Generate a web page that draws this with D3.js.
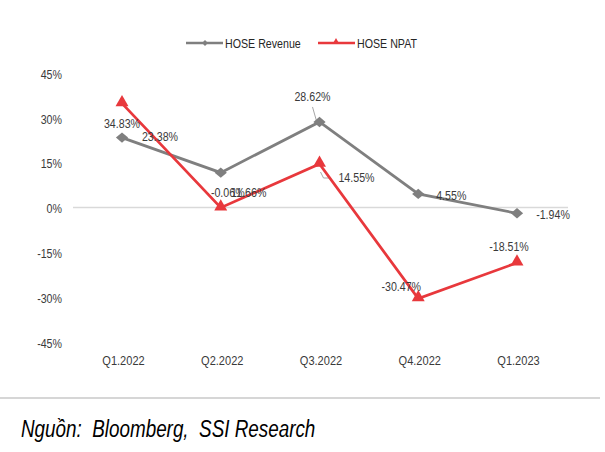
<!DOCTYPE html>
<html>
<head>
<meta charset="utf-8">
<script src="https://cdn.jsdelivr.net/npm/d3@7"></script>
<style>
  body { margin: 0; background: #fff; }
  text { font-family: "Liberation Sans", Arial, sans-serif; }
</style>
</head>
<body>
<div id="wrapper"></div>
<script>
const quarters = ["Q1.2022", "Q2.2022", "Q3.2022", "Q4.2022", "Q1.2023"];
const revenue = [23.38, 11.66, 28.62, 4.55, -1.94];
const npat = [34.83, -0.06, 14.55, -30.47, -18.51];
const yTicks = [45, 30, 15, 0, -15, -30, -45];
const seriesNames = ["HOSE Revenue", "HOSE NPAT"];
const sourceText = "Nguồn:  Bloomberg,  SSI Research";

// label offsets (dx, dy) from the point, in px (text centre / baseline)
const revLabelPos = [[38, 3], [28, 24], [-7, -21], [33, 6], [36, 6]];
const npatLabelPos = [[0, 25], [7, -11], [37, 18], [-17, -8], [-8, -12]];

const grey = "#7f7f7f";
const red = "#e8383c";
const textCol = "#3a3a3a";
const squeeze = "scale(0.82,1)"; // narrow look like Arial Narrow

const dimension = { width: 605, height: 452 };

const svg = d3.select("#wrapper").append("svg")
    .attr("width", dimension.width)
    .attr("height", dimension.height);

const xScaler = d3.scalePoint()
    .domain(quarters)
    .range([122, 517]);

const yScaler = d3.scaleLinear()
    .domain([-45, 45])
    .range([342, 73]);

// zero line
svg.append("line")
    .attr("x1", 73).attr("x2", 568)
    .attr("y1", yScaler(0)).attr("y2", yScaler(0))
    .attr("stroke", "#d9d9d9").attr("stroke-width", 1.5);

// y axis labels
const yAxis = d3.axisLeft(yScaler)
    .tickValues(yTicks)
    .tickSize(0)
    .tickPadding(0)
    .tickFormat(d => d + "%");
svg.append("g")
    .attr("transform", "translate(62,1)")
    .call(yAxis)
    .call(g => g.select(".domain").remove())
    .selectAll("text")
    .attr("transform", squeeze)
    .style("font-size", "13px")
    .attr("fill", textCol);

// x axis labels
const xAxis = d3.axisBottom(xScaler).tickSize(0).tickPadding(0);
svg.append("g")
    .attr("transform", "translate(1,355)")
    .call(xAxis)
    .call(g => g.select(".domain").remove())
    .selectAll("text")
    .attr("transform", squeeze)
    .style("font-size", "13.5px")
    .attr("fill", textCol);

const lineGen = d3.line()
    .x((d, i) => xScaler(quarters[i]))
    .y(d => yScaler(d));

const diamond = d3.symbol().type(d3.symbolDiamond2).size(95);
const triangle = d3.symbol().type(d3.symbolTriangle2).size(120);

// leader lines
const x3 = xScaler(quarters[2]);
svg.append("path")
    .attr("d", `M${x3 - 7},${yScaler(revenue[2]) - 15} L${x3 - 3},${yScaler(revenue[2]) - 1}`)
    .attr("stroke", "#a6a6a6").attr("fill", "none");
svg.append("path")
    .attr("d", `M${x3 + 1},${yScaler(npat[2]) + 8} L${x3 + 4},${yScaler(npat[2]) + 14} L${x3 + 10},${yScaler(npat[2]) + 14}`)
    .attr("stroke", "#a6a6a6").attr("fill", "none");

// revenue series
svg.append("path")
    .attr("d", lineGen(revenue))
    .attr("fill", "none")
    .attr("stroke", grey)
    .attr("stroke-width", 2.75);
svg.selectAll(".revPt")
    .data(revenue)
    .join("path")
    .attr("d", diamond)
    .attr("transform", (d, i) => `translate(${xScaler(quarters[i])},${yScaler(d)}) scale(1,0.85)`)
    .attr("fill", grey);

// npat series
svg.append("path")
    .attr("d", lineGen(npat))
    .attr("fill", "none")
    .attr("stroke", red)
    .attr("stroke-width", 2.75);
svg.selectAll(".npatPt")
    .data(npat)
    .join("path")
    .attr("d", triangle)
    .attr("transform", (d, i) => `translate(${xScaler(quarters[i])},${yScaler(d) - 1})`)
    .attr("fill", red);

// data labels
function addLabels(values, offsets) {
    svg.append("g").selectAll("g")
        .data(values)
        .join("g")
        .attr("transform", (d, i) =>
            `translate(${xScaler(quarters[i]) + offsets[i][0]},${yScaler(d) + offsets[i][1]})`)
        .append("text")
        .attr("transform", squeeze)
        .attr("text-anchor", "middle")
        .style("font-size", "13px")
        .attr("fill", textCol)
        .text(d => d.toFixed(2) + "%");
}
addLabels(revenue, revLabelPos);
addLabels(npat, npatLabelPos);

// legend
const legend = svg.append("g");
legend.append("line")
    .attr("x1", 186).attr("x2", 223).attr("y1", 43).attr("y2", 43)
    .attr("stroke", grey).attr("stroke-width", 2.5);
legend.append("path")
    .attr("d", d3.symbol().type(d3.symbolDiamond2).size(22))
    .attr("transform", "translate(205,43)")
    .attr("fill", grey);
legend.append("g").attr("transform", "translate(225,47.5)")
    .append("text")
    .attr("transform", squeeze)
    .style("font-size", "13px").attr("fill", "#262626")
    .text(seriesNames[0]);
legend.append("line")
    .attr("x1", 318).attr("x2", 355).attr("y1", 43).attr("y2", 43)
    .attr("stroke", red).attr("stroke-width", 2.5);
legend.append("path")
    .attr("d", d3.symbol().type(d3.symbolTriangle2).size(34))
    .attr("transform", "translate(336,42)")
    .attr("fill", red);
legend.append("g").attr("transform", "translate(357,47.5)")
    .append("text")
    .attr("transform", squeeze)
    .style("font-size", "13px").attr("fill", "#262626")
    .text(seriesNames[1]);

// bottom rule and source
svg.append("line")
    .attr("x1", 0).attr("x2", 600).attr("y1", 398).attr("y2", 398)
    .attr("stroke", "#c8c8c8").attr("stroke-width", 1.5);
svg.append("g").attr("transform", "translate(21,437)")
    .append("text")
    .attr("transform", squeeze)
    .style("font-size", "23px")
    .style("font-style", "italic")
    .style("white-space", "pre")
    .attr("fill", "#000")
    .text(sourceText);
</script>
</body>
</html>
